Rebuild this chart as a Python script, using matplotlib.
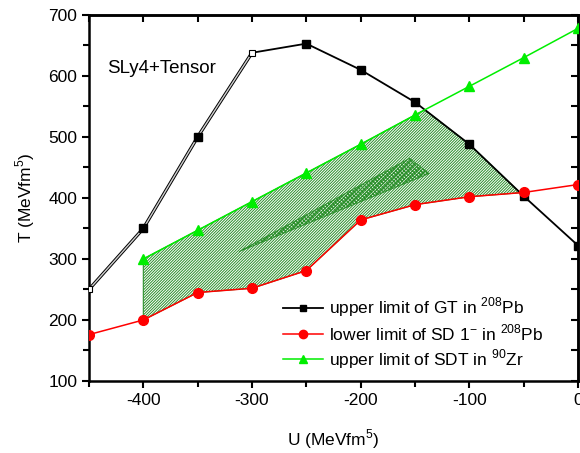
import numpy as np
import matplotlib
matplotlib.use("Agg")
import matplotlib.pyplot as plt
from matplotlib.lines import Line2D

plt.rcParams["font.family"] = ["Liberation Sans", "DejaVu Sans"]
plt.rcParams["hatch.linewidth"] = 0.7
plt.rcParams["mathtext.fontset"] = "custom"
plt.rcParams["mathtext.rm"] = "Liberation Sans"
plt.rcParams["axes.unicode_minus"] = False

# data
U = [-450, -400, -350, -300, -250, -200, -150, -100, -50, 0]
gt_pb = [250, 350, 500, 638, 653, 610, 557, 488, 403, 322]
sd_pb = [176, 200, 245, 252, 281, 364, 389, 402, 409, 422]
U_zr = [-400, -350, -300, -250, -200, -150, -100, -50, 0]
sdt_zr = [300, 347, 394, 441, 488, 536, 583, 630, 678]

# inner cross-hatched band
band_u = [-312, -155, -137]
band_t = [312, 465, 440]


def cross(xa, ya, xb, yb):
    # first crossing of two piecewise-linear curves on common x grid
    xs = sorted(set(xa) & set(xb))
    fa = np.interp(xs, xa, ya)
    fb = np.interp(xs, xb, yb)
    d = fa - fb
    for i in range(len(xs) - 1):
        if d[i] * d[i + 1] < 0:
            t = d[i] / (d[i] - d[i + 1])
            x = xs[i] + t * (xs[i + 1] - xs[i])
            return x, np.interp(x, xa, ya)
    return None


x1, y1 = cross(U_zr, sdt_zr, U, gt_pb)
x2, y2 = cross(U, gt_pb, U, sd_pb)

# allowed region polygon
px, py = [], []
for u, t in zip(U_zr, sdt_zr):
    if u < x1:
        px.append(u); py.append(t)
px.append(x1); py.append(y1)
for u, t in zip(U, gt_pb):
    if x1 < u < x2:
        px.append(u); py.append(t)
px.append(x2); py.append(y2)
for u, t in reversed(list(zip(U, sd_pb))):
    if -400 <= u < x2:
        px.append(u); py.append(t)

fig = plt.figure(figsize=(5.8, 4.53), dpi=100)
ax = fig.add_axes([0.1534, 0.159, 0.8432, 0.808])

ax.fill(px, py, facecolor="none", edgecolor="#2a8f2a", hatch="/" * 12, lw=0.8, zorder=1)
ax.fill(band_u, band_t, facecolor="none", edgecolor="#2a8f2a", hatch="x" * 8, lw=0.6, zorder=1)

# GT in 208Pb: first segment drawn as a double line
ax.plot(U[:4], gt_pb[:4], color="black", lw=2.4, zorder=3)
ax.plot(U[:4], gt_pb[:4], color="#d0d0d0", lw=1.0, zorder=3)
ax.plot(U[3:], gt_pb[3:], color="black", lw=1.3, zorder=3)
ax.plot(U[1:3] + U[4:], gt_pb[1:3] + gt_pb[4:], ls="none", marker="s",
        ms=5.5, color="black", zorder=4)
ax.plot([U[0], U[3]], [gt_pb[0], gt_pb[3]], ls="none", marker="s", ms=4.5,
        mfc="white", mec="black", mew=0.8, zorder=4)

ax.plot(U, sd_pb, color="red", lw=1.1, marker="o", ms=7, zorder=5)
ax.plot(U_zr, sdt_zr, color="#00ee00", lw=1.1, marker="^", ms=7, zorder=5)

ax.set_xlim(-450, 0)
ax.set_ylim(100, 700)
ax.set_xticks(np.arange(-400, 1, 100))
ax.set_xticks(np.arange(-450, 1, 50), minor=True)
ax.set_yticks(np.arange(100, 701, 100))
ax.set_yticks(np.arange(100, 701, 50), minor=True)

for s in ax.spines.values():
    s.set_linewidth(1.8)

ax.tick_params(which="both", direction="out", width=1.5, labelsize=12.5,
               top=False, right=False)
ax.tick_params(which="major", length=5)
ax.tick_params(which="minor", length=4)
ax2 = ax.secondary_xaxis("top")
ax2.set_xticks(np.arange(-400, 1, 100))
ax2.set_xticks(np.arange(-450, 1, 50), minor=True)
ax2.tick_params(which="both", direction="in", length=5, width=1.5, labeltop=False)
ay2 = ax.secondary_yaxis("right")
ay2.set_yticks(np.arange(100, 701, 100))
ay2.set_yticks(np.arange(100, 701, 50), minor=True)
ay2.tick_params(which="both", direction="in", length=5, width=1.5, labelright=False)
for a in (ax2, ay2):
    for s in a.spines.values():
        s.set_linewidth(1.8)

ax.set_xlabel("U (MeVfm$^5$)", fontsize=12.5, labelpad=14)
ax.set_ylabel("T (MeVfm$^5$)", fontsize=12.5, labelpad=8)

ax.text(-433, 612, "SLy4+Tensor", fontsize=13.5, va="center", ha="left")

handles = [
    Line2D([], [], color="black", lw=1.3, marker="s", ms=5),
    Line2D([], [], color="red", lw=1.1, marker="o", ms=6),
    Line2D([], [], color="#00ee00", lw=1.1, marker="^", ms=6),
]
labels = [
    "upper limit of GT in $^{208}$Pb",
    "lower limit of SD 1$^{-}$ in $^{208}$Pb",
    "upper limit of SDT in $^{90}$Zr",
]
ax.legend(handles, labels, loc="lower right", frameon=False, fontsize=12.5,
          handlelength=2.3, handletextpad=0.35, labelspacing=0.2,
          borderaxespad=0.2, bbox_to_anchor=(0.95, 0.0))

fig.savefig("out.png", dpi=100)
